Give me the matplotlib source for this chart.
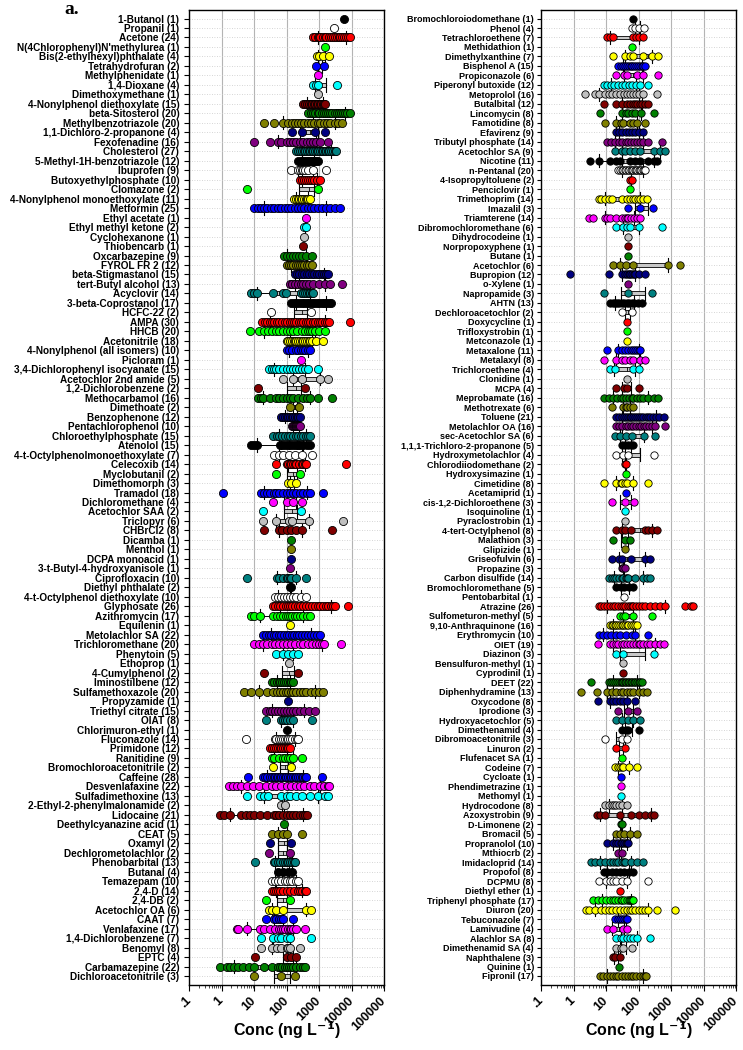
import numpy as np
import matplotlib
matplotlib.use("Agg")
import matplotlib.pyplot as plt
from matplotlib.ticker import FixedLocator, LogLocator, NullFormatter

plt.rcParams['font.family'] = ['Liberation Sans', 'DejaVu Sans']

# ---------------- left panel ----------------
left_names = ["1-Butanol", "Propanil", "Acetone", "N(4Chlorophenyl)N'methylurea",
              "Bis(2-ethylhexyl)phthalate", "Tetrahydrofuran", "Methylphenidate", "1,4-Dioxane",
              "Dimethoxymethane", "4-Nonylphenol diethoxylate", "beta-Sitosterol",
              "Methylbenzotriazole", "1,1-Dichloro-2-propanone", "Fexofenadine", "Cholesterol",
              "5-Methyl-1H-benzotriazole", "Ibuprofen", "Butoxyethylphosphate", "Clomazone",
              "4-Nonylphenol monoethoxylate", "Metformin", "Ethyl acetate", "Ethyl methyl ketone",
              "Cyclohexanone", "Thiobencarb", "Oxcarbazepine", "FYROL FR 2", "beta-Stigmastanol",
              "tert-Butyl alcohol", "Acyclovir", "3-beta-Coprostanol", "HCFC-22", "AMPA", "HHCB",
              "Acetonitrile", "4-Nonylphenol (all isomers)", "Picloram",
              "3,4-Dichlorophenyl isocyanate", "Acetochlor 2nd amide", "1,2-Dichlorobenzene",
              "Methocarbamol", "Dimethoate", "Benzophenone", "Pentachlorophenol",
              "Chloroethylphosphate", "Atenolol", "4-t-Octylphenolmonoethoxylate", "Celecoxib",
              "Myclobutanil", "Dimethomorph", "Tramadol", "Dichloromethane", "Acetochlor SAA",
              "Triclopyr", "CHBrCl2", "Dicamba", "Menthol", "DCPA monoacid",
              "3-t-Butyl-4-hydroxyanisole", "Ciprofloxacin", "Diethyl phthalate",
              "4-t-Octylphenol diethoxylate", "Glyphosate", "Azithromycin", "Equilenin",
              "Metolachlor SA", "Trichloromethane", "Phenytoin", "Ethoprop", "4-Cumylphenol",
              "Iminostilbene", "Sulfamethoxazole", "Propyzamide", "Triethyl citrate", "OIAT",
              "Chlorimuron-ethyl", "Fluconazole", "Primidone", "Ranitidine",
              "Bromochloroacetonitrile", "Caffeine", "Desvenlafaxine", "Sulfadimethoxine",
              "2-Ethyl-2-phenylmalonamide", "Lidocaine", "Deethylcyanazine acid", "CEAT", "Oxamyl",
              "Dechlorometolachlor", "Phenobarbital", "Butanal", "Temazepam", "2,4-D", "2,4-DB",
              "Acetochlor OA", "CAAT", "Venlafaxine", "1,4-Dichlorobenzene", "Benomyl", "EPTC",
              "Carbamazepine", "Dichloroacetonitrile"]

left_n = [1, 1, 24, 1, 4, 2, 1, 4, 1, 15, 20, 20, 4, 16, 27, 12, 9, 10, 2, 11, 25, 1, 2, 1, 1,
          9, 12, 15, 13, 14, 17, 2, 30, 20, 18, 10, 1, 15, 5, 2, 16, 2, 12, 10, 15, 15, 7, 14,
          2, 3, 18, 4, 2, 6, 8, 1, 1, 1, 1, 10, 2, 10, 26, 17, 1, 22, 20, 5, 1, 2, 12, 20, 1,
          15, 8, 1, 14, 12, 9, 2, 28, 22, 13, 2, 21, 1, 5, 2, 2, 13, 4, 10, 14, 2, 6, 7, 17, 7,
          8, 4, 22, 3]

left_vals = [
    [6000], [2900],
    [650, 750, 900, 1000, 1100, 1300, 1500, 1700, 2000, 2300, 2700, 3000, 3500, 4000, 4500,
     5000, 6000, 7000, 8000, 9000],
    [1500], [850, 1000, 1300, 2100], [800, 1400], [950], [650, 800, 950, 3600], [950],
    [320, 380, 430, 500, 560, 630, 700, 780, 850, 950, 1050, 1150, 1300, 1400, 1500],
    [450, 550, 650, 750, 900, 1000, 1200, 1400, 1600, 1900, 2200, 2600, 3000, 3500, 4000, 4800,
     5500, 6500, 7500, 9000],
    [20, 40, 80, 110, 150, 180, 220, 280, 350, 450, 550, 700, 900, 1100, 1400, 1800, 2200, 3000,
     3800, 5000],
    [145, 290, 740, 1500],
    [10, 30, 55, 70, 100, 130, 160, 200, 260, 330, 420, 520, 650, 800, 1100, 1900],
    [190, 220, 260, 300, 340, 380, 430, 480, 540, 600, 670, 750, 850, 950, 1050, 1200, 1350,
     1500, 1700, 1900, 2100, 2400, 2700, 3000, 3400],
    [230, 270, 310, 350, 400, 450, 500, 560, 630, 710, 800, 940],
    [140, 230, 260, 290, 330, 370, 450, 660, 1700],
    [260, 300, 350, 400, 450, 520, 600, 700, 850, 1050],
    [6.2, 950],
    [170, 190, 220, 250, 280, 310, 350, 390, 430, 470, 520],
    [10, 13, 17, 20, 26, 33, 42, 55, 70, 90, 110, 140, 180, 220, 280, 350, 450, 560, 700, 900,
     1200, 1600, 2200, 3000, 4500],
    [410], [350, 390], [340], [325],
    [85, 100, 125, 160, 200, 250, 300, 400, 600],
    [100, 120, 140, 160, 190, 220, 260, 300, 350, 420, 500, 590],
    [180, 210, 250, 300, 350, 420, 500, 600, 700, 850, 1000, 1200, 1400, 1650, 1900],
    [125, 150, 180, 220, 270, 330, 400, 500, 650, 1000, 1500, 2200, 5000],
    [8, 10, 12, 38, 80, 95, 280, 330, 380, 430, 480, 540, 600, 660],
    [140, 170, 200, 240, 290, 350, 420, 500, 600, 700, 850, 1000, 1200, 1450, 1700, 2000, 2400],
    [33, 560],
    [18, 22, 26, 30, 35, 42, 50, 60, 75, 90, 105, 125, 150, 175, 200, 240, 280, 330, 390, 460,
     540, 640, 750, 900, 1050, 1250, 1500, 1800, 2000, 9000],
    [7.8, 14, 20, 27, 35, 49, 60, 79, 100, 130, 160, 210, 290, 380, 450, 520, 620, 740, 1000,
     1500],
    [100, 115, 130, 150, 165, 180, 200, 230, 260, 290, 330, 380, 430, 480, 520, 600, 800, 1300],
    [100, 120, 150, 190, 230, 280, 330, 380, 450, 520],
    [275],
    [29, 35, 42, 49, 60, 79, 100, 127, 160, 200, 250, 300, 365, 450, 940],
    [79, 160, 290, 1050, 1900],
    [13.5, 365],
    [13, 16, 19, 30, 49, 60, 79, 100, 130, 160, 220, 325, 420, 520, 940, 2550],
    [127, 240],
    [70, 80, 90, 100, 115, 130, 145, 160, 180, 205, 230, 260],
    [150, 160, 170, 180, 190, 200, 210, 225, 240, 260],
    [39, 50, 60, 75, 90, 110, 130, 160, 190, 230, 280, 330, 390, 450, 520],
    [8, 10, 12, 62, 75, 90, 110, 130, 160, 190, 230, 260, 320, 420, 520],
    [42, 60, 79, 120, 180, 300, 590],
    [49, 100, 113, 125, 140, 160, 180, 200, 240, 290, 330, 365, 400, 7000],
    [47, 260],
    [113, 140, 200],
    [1.1, 16, 20, 25, 30, 40, 49, 60, 79, 100, 127, 160, 200, 260, 325, 420, 520, 1300],
    [39, 100, 160, 290],
    [19, 275],
    [19, 46, 120, 150, 500, 5500],
    [21, 60, 75, 100, 140, 200, 290, 2550],
    [140], [140], [135], [127],
    [5.9, 50, 60, 80, 100, 110, 125, 140, 200, 410],
    [127, 140],
    [44, 55, 70, 85, 100, 127, 160, 200, 280, 410],
    [39, 45, 55, 65, 80, 95, 110, 127, 150, 180, 220, 260, 320, 400, 500, 600, 750, 900, 1100,
     1300, 1600, 1900, 2300, 2700, 3000, 7800],
    [8, 10, 15, 39, 50, 65, 79, 95, 110, 127, 150, 180, 210, 260, 330, 420, 520],
    [127],
    [19, 23, 28, 34, 40, 48, 58, 70, 85, 100, 120, 145, 175, 210, 250, 300, 370, 450, 550, 700,
     850, 1050],
    [10, 14, 19, 25, 35, 45, 60, 79, 100, 140, 180, 260, 330, 450, 590, 800, 1000, 1200, 1400,
     4900],
    [49, 80, 113, 160, 230],
    [120],
    [21, 220],
    [35, 42, 50, 58, 65, 75, 85, 95, 110, 125, 140, 160],
    [5, 8, 14, 25, 39, 50, 65, 79, 95, 115, 140, 160, 200, 260, 330, 410, 550, 740, 1000, 1340],
    [113],
    [24, 30, 37, 45, 55, 68, 85, 105, 130, 160, 200, 260, 350, 500, 740],
    [24, 70, 79, 90, 100, 130, 160, 590],
    [105],
    [5.5, 45, 49, 60, 70, 79, 90, 100, 115, 127, 150, 180, 210, 230],
    [32, 37, 42, 48, 55, 62, 70, 78, 88, 100, 113, 127],
    [35, 40, 60, 79, 90, 110, 127, 160, 310],
    [39, 140],
    [6.6, 19, 22, 26, 30, 35, 40, 45, 50, 56, 63, 70, 79, 88, 98, 110, 125, 140, 160, 180, 200,
     230, 260, 300, 325, 360, 400, 1280],
    [1.7, 2.2, 2.9, 4, 5.9, 9, 14, 24, 35, 49, 70, 100, 140, 200, 260, 350, 520, 700, 1050, 1400,
     1900, 2000],
    [5.9, 15, 20, 27, 70, 100, 127, 200, 290, 520, 940, 1500, 1900],
    [70, 90],
    [0.9, 1.2, 1.8, 4, 5.5, 7.4, 10, 15, 25, 40, 49, 60, 79, 100, 130, 160, 200, 260, 330, 380,
     420],
    [83],
    [35, 55, 80, 100, 290],
    [30, 133],
    [29, 127],
    [11, 40, 44, 55, 65, 79, 90, 100, 115, 127, 145, 165, 180],
    [53, 79, 113, 150],
    [35, 45, 55, 70, 90, 100, 127, 150, 190, 230],
    [35, 42, 48, 55, 65, 80, 100, 130, 170, 220, 260, 310, 360, 410],
    [24, 127],
    [28, 35, 49, 79, 400, 550],
    [24, 40, 49, 60, 70, 79, 160],
    [3, 3.3, 5.9, 15, 21, 30, 44, 60, 70, 80, 90, 110, 125, 140, 160, 200, 365],
    [17, 39, 55, 70, 100, 127, 550],
    [17, 35, 50, 70, 100, 110, 127, 260],
    [11, 100, 140, 200],
    [0.9, 1.5, 1.8, 2.5, 3.3, 4.6, 7, 10, 21, 35, 55, 65, 75, 90, 100, 120, 140, 160, 200, 260,
     320, 365],
    [10, 70, 180],
]

# ---------------- right panel ----------------
right_names = ["Bromochloroiodomethane", "Phenol", "Tetrachloroethene", "Methidathion",
               "Dimethylxanthine", "Bisphenol A", "Propiconazole", "Piperonyl butoxide",
               "Metoprolol", "Butalbital", "Lincomycin", "Famotidine", "Efavirenz",
               "Tributyl phosphate", "Acetochlor SA", "Nicotine", "n-Pentanal",
               "4-Isopropyltoluene", "Penciclovir", "Trimethoprim", "Imazalil", "Triamterene",
               "Dibromochloromethane", "Dihydrocodeine", "Norpropoxyphene", "Butane", "Acetochlor",
               "Bupropion", "o-Xylene", "Napropamide", "AHTN", "Dechloroacetochlor", "Doxycycline",
               "Trifloxystrobin", "Metconazole", "Metaxalone", "Metalaxyl", "Trichloroethene",
               "Clonidine", "MCPA", "Meprobamate", "Methotrexate", "Toluene", "Metolachlor OA",
               "sec-Acetochlor SA", "1,1,1-Trichloro-2-propanone", "Hydroxymetolachlor",
               "Chlorodiiodomethane", "Hydroxysimazine", "Cimetidine", "Acetamiprid",
               "cis-1,2-Dichloroethene", "Isoquinoline", "Pyraclostrobin", "4-tert-Octylphenol",
               "Malathion", "Glipizide", "Griseofulvin", "Propazine", "Carbon disulfide",
               "Bromochloromethane", "Pentobarbital", "Atrazine", "Sulfometuron-methyl",
               "9,10-Anthraquinone", "Erythromycin", "OIET", "Diazinon", "Bensulfuron-methyl",
               "Cyprodinil", "DEET", "Diphenhydramine", "Oxycodone", "Iprodione",
               "Hydroxyacetochlor", "Dimethenamid", "Dibromoacetonitrile", "Linuron",
               "Flufenacet SA", "Codeine", "Cycloate", "Phendimetrazine", "Methomyl",
               "Hydrocodone", "Azoxystrobin", "D-Limonene", "Bromacil", "Propranolol", "Mthiocrb",
               "Imidacloprid", "Propofol", "DCPMU", "Diethyl ether", "Triphenyl phosphate",
               "Diuron", "Tebuconazole", "Lamivudine", "Alachlor SA", "Dimethenamid SA",
               "Naphthalene", "Quinine", "Fipronil"]

right_n = [1, 4, 7, 1, 7, 15, 6, 12, 16, 12, 8, 8, 9, 14, 9, 11, 20, 2, 1, 14, 3, 14, 6, 1, 1,
           1, 6, 12, 1, 3, 13, 2, 1, 1, 1, 11, 8, 4, 1, 4, 16, 6, 21, 16, 6, 5, 4, 2, 1, 8, 1,
           3, 1, 1, 8, 3, 1, 6, 3, 14, 5, 1, 26, 5, 16, 10, 19, 3, 1, 1, 22, 13, 8, 3, 5, 4, 3,
           2, 1, 7, 1, 1, 1, 8, 9, 2, 5, 10, 2, 14, 8, 8, 1, 17, 20, 7, 4, 8, 4, 3, 1, 17]

right_vals = [
    [70], [62, 80, 100, 150], [10.6, 13, 17, 70, 85, 100, 142], [62],
    [17, 39, 55, 70, 142, 260, 410],
    [24, 28, 33, 38, 44, 50, 57, 65, 75, 85, 97, 110, 125, 140, 160],
    [21, 35, 44, 89, 142, 410],
    [8.4, 11, 14, 18, 23, 30, 38, 50, 65, 85, 115, 200],
    [2.2, 4.6, 6, 9.4, 12, 15, 20, 27, 35, 44, 55, 70, 85, 100, 142, 365],
    [8.4, 21, 30, 44, 55, 70, 80, 90, 112, 130, 160, 200],
    [6.6, 31, 40, 49, 65, 79, 120, 290],
    [9.4, 21, 28, 34, 55, 70, 89, 160],
    [21, 26, 32, 40, 50, 63, 80, 105, 142],
    [10.6, 14, 19, 25, 31, 40, 49, 60, 75, 89, 110, 142, 200, 520],
    [19, 30, 39, 55, 79, 110, 300, 460, 660],
    [3.3, 5.9, 13.5, 20, 27, 55, 80, 112, 200, 290, 365],
    [24, 27, 30, 34, 38, 42, 47, 52, 58, 64, 70, 77, 85, 93, 102, 112, 123, 135, 147, 160],
    [55, 62], [55],
    [5.9, 7, 9, 12, 15, 30, 44, 55, 70, 80, 95, 112, 140, 180],
    [49, 112, 275],
    [2.9, 4, 9.4, 11, 13.5, 20, 31, 38, 44, 49, 60, 75, 90, 112],
    [21, 34, 45, 55, 100, 520],
    [49], [49], [49],
    [17, 27, 40, 70, 830, 1900],
    [0.8, 12, 30, 39, 45, 50, 55, 65, 72, 79, 100, 160],
    [46],
    [8.4, 49, 260],
    [13.5, 16, 19, 22, 26, 31, 37, 44, 52, 62, 75, 95, 127],
    [31, 62], [44], [44], [44],
    [10.6, 24, 30, 38, 49, 58, 68, 78, 89, 100, 112],
    [8.4, 21, 30, 39, 55, 70, 112, 160],
    [13.5, 19, 70, 100],
    [44],
    [21, 35, 44, 107],
    [8.4, 12, 17, 22, 28, 34, 42, 52, 62, 70, 90, 115, 142, 200, 290, 410],
    [15, 34, 40, 45, 55, 70],
    [21, 25, 30, 35, 40, 46, 53, 60, 70, 80, 92, 105, 120, 140, 165, 195, 230, 280, 340, 420, 590],
    [21, 26, 32, 40, 48, 58, 70, 85, 100, 120, 145, 175, 210, 260, 330, 660],
    [19, 27, 40, 62, 150, 325],
    [31, 38, 47, 58, 70],
    [21, 34, 49, 290],
    [39, 42], [42],
    [8.4, 21, 28, 31, 38, 44, 70, 200],
    [42],
    [15, 39, 75],
    [39], [39],
    [21, 30, 39, 60, 160, 200, 260, 365],
    [17, 39, 55],
    [39],
    [15, 25, 31, 60, 160, 227],
    [31, 34, 39],
    [12, 15, 18, 21, 25, 30, 34, 40, 45, 49, 80, 140, 180, 227],
    [21, 28, 37, 50, 70],
    [36],
    [5.9, 7, 8.5, 10.6, 13, 16, 19, 23, 28, 33, 39, 46, 55, 63, 70, 85, 100, 125, 160, 220, 325,
     450, 660, 2750, 4000, 4900],
    [27, 33, 39, 70, 260],
    [13.5, 15, 17, 19, 21, 24, 27, 30, 34, 38, 43, 49, 57, 66, 76, 89],
    [5.9, 8, 10.6, 14, 20, 27, 40, 62, 80, 200],
    [5.6, 13.5, 17, 21, 24, 30, 37, 44, 55, 70, 85, 100, 112, 140, 180, 230, 325, 450, 590],
    [21, 34, 290],
    [34], [34],
    [3.4, 12, 14, 16, 19, 22, 25, 28, 31, 34, 38, 42, 47, 52, 58, 65, 72, 80, 90, 100, 112, 127],
    [1.7, 5.2, 10.6, 15, 21, 28, 34, 45, 55, 70, 100, 142, 180],
    [5.5, 13.5, 17, 21, 27, 34, 45, 79],
    [24, 49, 89],
    [21, 31, 49, 70, 112],
    [31, 40, 49, 100],
    [9.4, 31, 44],
    [21, 39],
    [31],
    [19, 23, 27, 30, 34, 50, 89],
    [29], [29], [28],
    [9.4, 12, 15, 18, 21, 26, 31, 44],
    [5.2, 6.5, 9.4, 27, 60, 100, 160, 250, 290],
    [28, 31],
    [21, 27, 35, 55, 89],
    [10.6, 17, 20, 24, 28, 32, 36, 40, 45, 49],
    [24, 31],
    [3.4, 4.5, 6.6, 9, 13.5, 17, 21, 24, 30, 35, 39, 60, 89, 142],
    [8.4, 11, 15, 20, 27, 36, 50, 70],
    [6.3, 10, 13.5, 17, 21, 30, 44, 200],
    [27],
    [4.1, 5.5, 7.4, 10, 13.5, 16, 19, 24, 28, 32, 37, 44, 50, 55, 60, 65, 70],
    [2.5, 3, 4.6, 7, 9, 12, 15, 20, 27, 35, 44, 55, 65, 79, 100, 130, 160, 200, 365, 1340],
    [19, 23, 27, 31, 36, 40, 44],
    [11, 17, 34, 44],
    [21, 28, 34, 45, 55, 70, 89, 227],
    [21, 28, 34, 62],
    [16, 19, 27],
    [26],
    [6.6, 8, 10.6, 13, 17, 21, 24, 30, 38, 48, 60, 70, 85, 110, 142, 155, 165],
]

# colour cycle used for the rows, top to bottom
row_colors = ['#000000', '#ffffff', '#ff0000', '#00ff00', '#ffff00', '#0000ff', '#ff00ff',
              '#00ffff', '#c0c0c0', '#800000', '#008000', '#808000', '#000080', '#800080',
              '#008080']

tick_vals = [0.1, 1, 10, 100, 1000, 10000, 100000]
tick_text = ['.1', '1', '10', '100', '1000', '10000', '100000']


def draw_panel(ax, names, counts, values, label_size, dot_size, tick_len, tick_pad):
    pos = np.arange(len(names))
    ax.set_xscale('log')

    multi = [i for i in pos if len(values[i]) > 1]
    ax.boxplot([values[i] for i in multi], positions=multi, orientation='horizontal',
               whis=(10, 90), widths=0.42, patch_artist=True, showfliers=False,
               capwidths=1.4, manage_ticks=False,
               boxprops=dict(facecolor='#c8c8c8', edgecolor='black', linewidth=0.6),
               medianprops=dict(color='black', linewidth=0.6),
               whiskerprops=dict(color='black', linewidth=0.7),
               capprops=dict(color='black', linewidth=0.8), zorder=2)

    for i, vals in enumerate(values):
        ax.scatter(vals, [i] * len(vals), s=dot_size, c=row_colors[i % len(row_colors)],
                   edgecolors='black', linewidths=0.6, zorder=3)

    labels = [f"{nm} ({c})" for nm, c in zip(names, counts)]
    ax.set_yticks(pos)
    ax.set_yticklabels(labels, fontsize=label_size, fontweight='bold')
    ax.set_ylim(len(names) - 0.05, -0.9)
    ax.set_xlim(0.1, 100000)

    ax.xaxis.set_major_locator(FixedLocator(tick_vals))
    ax.set_xticklabels(tick_text, rotation=45, ha='right', va='center',
                       rotation_mode='anchor', fontsize=9, fontweight='bold')
    ax.xaxis.set_minor_locator(LogLocator(base=10, subs=np.arange(2, 10), numticks=20))
    ax.xaxis.set_minor_formatter(NullFormatter())
    ax.tick_params(axis='x', which='major', length=4, width=0.8, pad=6)
    ax.tick_params(axis='x', which='minor', length=2, width=0.5)
    ax.tick_params(axis='y', length=tick_len, width=0.8, pad=tick_pad)

    ax.grid(axis='x', which='major', color='#b4b4b4', linewidth=0.8, linestyle='-', zorder=0)
    ax.grid(axis='y', color='#c8c8c8', linewidth=0.6, linestyle=(0, (1, 2)), zorder=0)
    ax.set_axisbelow(True)
    for sp in ax.spines.values():
        sp.set_linewidth(1.0)
    ax.set_xlabel('Conc (ng L$^{\\mathbf{-1}}$)', fontsize=11.5, fontweight='bold')
    ax.xaxis.label.set_va('center')
    ax.xaxis.set_label_coords(0.5, -45 / 975)


fig = plt.figure(figsize=(7.43, 10.5), dpi=100)
ax_l = fig.add_axes([189 / 743, 65 / 1050, 195 / 743, 975 / 1050])
ax_r = fig.add_axes([541 / 743, 65 / 1050, 195 / 743, 975 / 1050])

draw_panel(ax_l, left_names, left_n, left_vals, 7.2, 34, 3.5, 3.5)
draw_panel(ax_r, right_names, right_n, right_vals, 6.5, 28, 3.0, 2.0)

fig.text(72 / 743, 1 - 10 / 1050, 'a.', family='Liberation Serif', fontweight='bold',
         fontsize=14, ha='center', va='center')

fig.savefig('out.png', dpi=100)
